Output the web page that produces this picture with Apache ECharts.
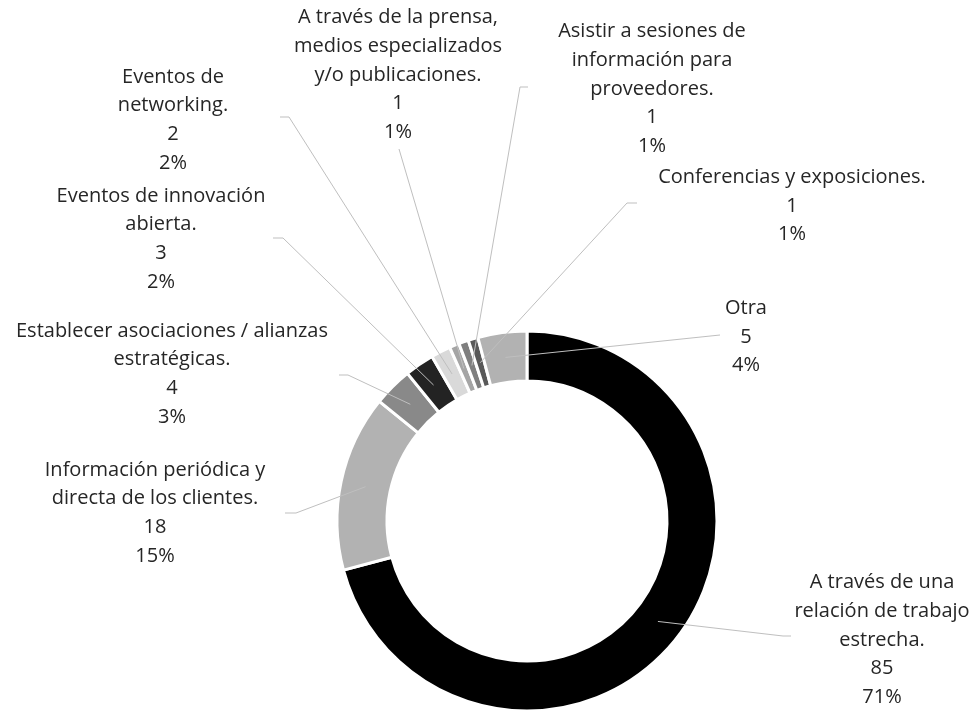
<!DOCTYPE html>
<html>
<head>
<meta charset="utf-8">
<script src="https://cdn.jsdelivr.net/npm/echarts@6/dist/echarts.min.js"></script>
<style>
html,body{margin:0;padding:0;background:#fff;}
#chart{width:979px;height:713px;}
</style>
</head>
<body>
<div id="chart"></div>
<script>
// ---- data ----
const categories = [
  "A través de una relación de trabajo estrecha.",
  "Información periódica y directa de los clientes.",
  "Establecer asociaciones / alianzas estratégicas.",
  "Eventos de innovación abierta.",
  "Eventos de networking.",
  "A través de la prensa, medios especializados y/o publicaciones.",
  "Asistir a sesiones de información para proveedores.",
  "Conferencias y exposiciones.",
  "Otra"
];
const labelTexts = [
  "A través de una\nrelación de trabajo\nestrecha.",
  "Información periódica y\ndirecta de los clientes.",
  "Establecer asociaciones / alianzas\nestratégicas.",
  "Eventos de innovación\nabierta.",
  "Eventos de\nnetworking.",
  "A través de la prensa,\nmedios especializados\ny/o publicaciones.",
  "Asistir a sesiones de\ninformación para\nproveedores.",
  "Conferencias y exposiciones.",
  "Otra"
];
const values = [85, 18, 4, 3, 2, 1, 1, 1, 5];
const colors = ["#000000", "#b2b2b2", "#898989", "#232323", "#d9d9d9", "#a5a5a5", "#7f7f7f", "#595959", "#b2b2b2"];

// ---- layout (label placement, not data) ----
const CX = 527, CY = 521, R_IN = 140, R_OUT = 190;
const labelCenters = [[882,640],[155,513],[172,374],[161,239],[173,120],[398,75],[652,89],[792,206],[746,337]];
const leaderEnds = [
  [[783,636],[791,636]],
  [[296,513],[285,513]],
  [[348,375],[339,375]],
  [[283,238],[273,238]],
  [[289,117],[280,117]],
  [[399,149],[399,149]],
  [[520,87],[528,87]],
  [[627,203],[637,203]],
  [[720,335],[720,335]]
];

const total = values.reduce((a,b)=>a+b,0);
function midPoint(i){
  let before = 0;
  for (let k=0;k<i;k++) before += values[k];
  const frac = (before + values[i]/2) / total;
  const th = frac * Math.PI * 2;
  const rm = (R_IN + R_OUT) / 2;
  return [CX + rm*Math.sin(th), CY - rm*Math.cos(th)];
}

const chart = echarts.init(document.getElementById('chart'), null, {renderer:'canvas'});
const FONT = 'Open Sans';
const seriesData = categories.map((n, i) => ({ name: n, value: values[i], itemStyle: { color: colors[i] } }));
const option = {
  backgroundColor: '#ffffff',
  animation: false,
  series: [{
    type: 'pie',
    z: 1,
    silent: true,
    center: [CX, CY],
    radius: [R_IN, R_OUT],
    startAngle: 90,
    clockwise: true,
    itemStyle: { borderColor: '#ffffff', borderWidth: 3 },
    label: { show: false },
    labelLine: { show: false },
    emphasis: { disabled: true },
    data: seriesData
  }, {
    type: 'pie',
    z: 3,
    silent: true,
    center: [CX, CY],
    radius: [R_IN, R_OUT],
    startAngle: 90,
    clockwise: true,
    avoidLabelOverlap: false,
    percentPrecision: 0,
    itemStyle: { color: 'rgba(0,0,0,0)', borderWidth: 0 },
    label: {
      show: true,
      formatter: p => labelTexts[p.dataIndex] + '\n' + p.value + '\n' + p.percent + '%',
      fontFamily: FONT,
      fontSize: 20,
      lineHeight: 28.7,
      color: '#262626',
      align: 'center'
    },
    labelLine: { show: true, lineStyle: { color: '#bfbfbf', width: 1 } },
    labelLayout: function (params) {
      const i = params.dataIndex;
      const c = labelCenters[i];
      const s = midPoint(i);
      return {
        x: c[0], y: c[1], align: 'center', verticalAlign: 'middle',
        labelLinePoints: [s, leaderEnds[i][0], leaderEnds[i][1]]
      };
    },
    emphasis: { disabled: true },
    data: categories.map((n, i) => ({ name: n, value: values[i] }))
  }]
};
chart.setOption(option);
</script>
</body>
</html>
